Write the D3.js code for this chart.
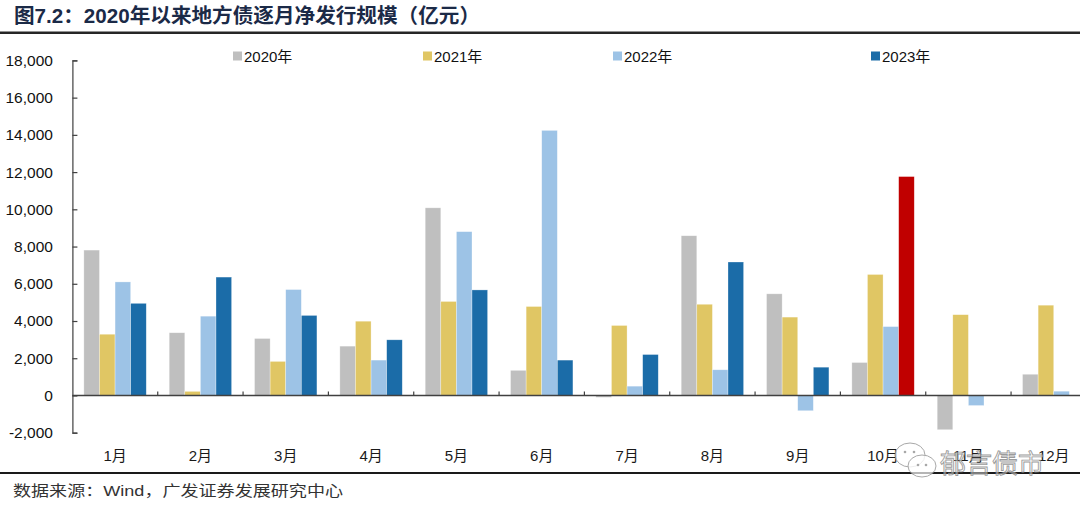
<!DOCTYPE html>
<html>
<head>
<meta charset="utf-8">
<script src="https://cdn.jsdelivr.net/npm/d3@7"></script>
<style>
  html, body { margin: 0; padding: 0; background: #fff; }
  svg { display: block; }
  text { font-family: "Liberation Sans", "Noto Sans CJK SC", Arial, sans-serif; }
</style>
</head>
<body>
<svg id="chart" width="1080" height="512"></svg>
<script>
// ---- data ----
const titleText = "图7.2：2020年以来地方债逐月净发行规模（亿元）";
const sourceText = "数据来源：Wind，广发证券发展研究中心";
const watermarkText = "郁言债市";
const months = ["1月","2月","3月","4月","5月","6月","7月","8月","9月","10月","11月","12月"];
const years = ["2020年","2021年","2022年","2023年"];
const v2020 = [7810, 3370, 3060, 2650, 10080, 1350, -100, 8580, 5460, 1770, -1840, 1140];
const v2021 = [3290, 220, 1830, 3990, 5050, 4780, 3760, 4900, 4210, 6500, 4340, 4850];
const v2022 = [6100, 4260, 5690, 1900, 8800, 14240, 500, 1380, -820, 3700, -540, 230];
const v2023 = [4950, 6360, 4300, 2990, 5670, 1900, 2200, 7170, 1520, 11760, null, null];
const seriesValues = [v2020, v2021, v2022, v2023];
const yTicks = [-2000, 0, 2000, 4000, 6000, 8000, 10000, 12000, 14000, 16000, 18000];
const highlightMonth = "10月";
const highlightYear = "2023年";

// ---- styles / layout ----
const colors = ["#BFBFBF", "#E0C664", "#9DC3E6", "#1B6CA8"];
const highlightColor = "#C00000";
const W = 1080, H = 512;
const plot = { left: 72.4, right: 1096.4, top: 60.4, bottom: 432.7 };
const legendX = [233, 423, 613, 871];

const svg = d3.select("#chart");

const rows = months.map((m, i) => ({ month: m, values: years.map((y, j) => ({ year: y, value: seriesValues[j][i], month: m })) }));

const x0 = d3.scaleBand().domain(months).range([plot.left, plot.right]).paddingInner(0).paddingOuter(0);
const x1 = d3.scaleBand().domain(years).range([0, x0.bandwidth()]).paddingInner(0).paddingOuter(0.735);
const y = d3.scaleLinear().domain([-2000, 18000]).range([plot.bottom, plot.top]);

// title
svg.append("text")
  .attr("x", 14).attr("y", 23)
  .attr("textLength", 466).attr("lengthAdjust", "spacingAndGlyphs")
  .attr("font-size", 20).attr("font-weight", "bold").attr("fill", "#1B2A47")
  .text(titleText);
svg.append("line").attr("x1", 0).attr("x2", W).attr("y1", 32.7).attr("y2", 32.7)
  .attr("stroke", "#262626").attr("stroke-width", 2.5);

// bars
const g = svg.append("g");
const groups = g.selectAll("g.grp").data(rows).join("g")
  .attr("class", "grp")
  .attr("transform", d => `translate(${x0(d.month)},0)`);
groups.selectAll("rect").data(d => d.values.filter(v => v.value !== null)).join("rect")
  .attr("x", d => x1(d.year))
  .attr("width", x1.bandwidth())
  .attr("y", d => y(Math.max(0, d.value)))
  .attr("height", d => Math.abs(y(d.value) - y(0)))
  .attr("fill", d => (d.month === highlightMonth && d.year === highlightYear) ? highlightColor : colors[years.indexOf(d.year)])
  .attr("stroke", "#ffffff").attr("stroke-opacity", 0.5).attr("stroke-width", 0.6);

// y axis
const yAxis = d3.axisLeft(y).tickValues(yTicks)
  .tickSizeInner(-5).tickSizeOuter(-5).tickPadding(19.5)
  .tickFormat(d => d3.format(",")(d).replace("\u2212", "-"));
const yg = svg.append("g").attr("transform", `translate(${plot.left},0)`).call(yAxis);
yg.selectAll("path, line").attr("stroke", "#404040").attr("stroke-width", 1.2);
yg.selectAll("text").attr("font-size", 15.5).attr("fill", "#111").attr("font-family", "Liberation Sans, Arial, sans-serif");

// x axis at zero
const xg = svg.append("g").attr("transform", `translate(0,${y(0)})`);
xg.append("line").attr("x1", plot.left).attr("x2", plot.right).attr("y1", 0).attr("y2", 0)
  .attr("stroke", "#404040").attr("stroke-width", 1.5);
xg.selectAll("line.tk").data(months.slice(1)).join("line").attr("class", "tk")
  .attr("x1", d => x0(d)).attr("x2", d => x0(d)).attr("y1", 0).attr("y2", -4)
  .attr("stroke", "#404040").attr("stroke-width", 1.2);
svg.append("g").selectAll("text").data(months).join("text")
  .attr("x", d => x0(d) + x0.bandwidth() / 2)
  .attr("y", 461)
  .attr("text-anchor", "middle")
  .attr("font-size", 15).attr("fill", "#1a1a1a")
  .text(d => d);

// legend
const lg = svg.append("g");
years.forEach((yr, i) => {
  lg.append("rect").attr("x", legendX[i]).attr("y", 51.5).attr("width", 9).attr("height", 9).attr("fill", colors[i]);
  lg.append("text").attr("x", legendX[i] + 11).attr("y", 61.5).attr("font-size", 15).attr("fill", "#111").text(yr);
});

// bottom rule + source
svg.append("line").attr("x1", 0).attr("x2", W).attr("y1", 473).attr("y2", 473)
  .attr("stroke", "#1a1a1a").attr("stroke-width", 2.2);
svg.append("text")
  .attr("x", 13).attr("y", 496)
  .attr("textLength", 330).attr("lengthAdjust", "spacingAndGlyphs")
  .attr("font-size", 14.5).attr("fill", "#333")
  .text(sourceText);

// watermark
const wm = svg.append("g").attr("opacity", 0.85);
wm.append("ellipse").attr("cx", 910).attr("cy", 455).attr("rx", 15).attr("ry", 12)
  .attr("fill", "#fff").attr("fill-opacity", 0.7).attr("stroke", "#9a9a9a").attr("stroke-width", 1);
wm.append("ellipse").attr("cx", 922).attr("cy", 466).attr("rx", 14).attr("ry", 11)
  .attr("fill", "#fff").attr("fill-opacity", 0.8).attr("stroke", "#9a9a9a").attr("stroke-width", 1);
[[905, 452], [914, 452], [918, 465], [926, 465]].forEach(p => {
  wm.append("circle").attr("cx", p[0]).attr("cy", p[1]).attr("r", 1.3).attr("fill", "#9a9a9a");
});
wm.append("text")
  .attr("x", 940).attr("y", 473)
  .attr("font-size", 26).attr("fill", "#fff").attr("fill-opacity", 0.6)
  .attr("stroke", "#8a8a8a").attr("stroke-width", 0.9)
  .attr("font-family", "Noto Sans CJK SC, sans-serif")
  .text(watermarkText);
</script>
</body>
</html>
